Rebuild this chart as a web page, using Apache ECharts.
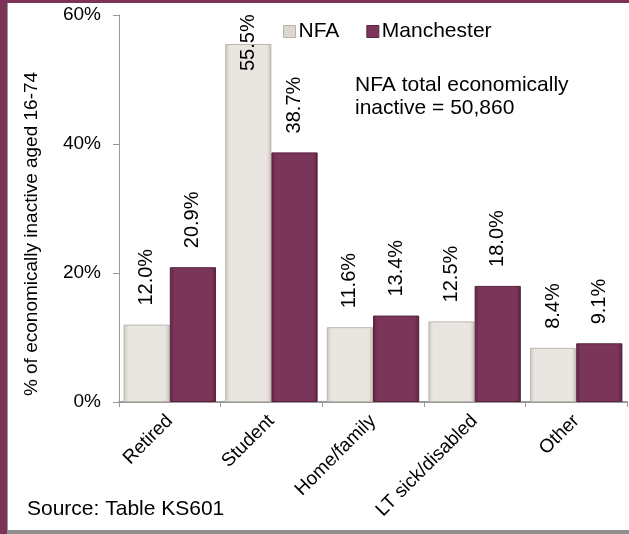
<!DOCTYPE html>
<html>
<head>
<meta charset="utf-8">
<script src="https://cdn.jsdelivr.net/npm/echarts@6/dist/echarts.min.js"></script>
<style>
html,body{margin:0;padding:0;background:#fff;}
#chart{width:629px;height:534px;}
</style>
</head>
<body>
<div id="chart"></div>
<script>
var categories = ['Retired', 'Student', 'Home/family', 'LT sick/disabled', 'Other'];
var nfaValues = [12.0, 55.5, 11.6, 12.5, 8.4];
var manchesterValues = [20.9, 38.7, 13.4, 18.0, 9.1];
var seriesNames = ['NFA', 'Manchester'];
var yTicks = [0, 20, 40, 60];
var yAxisTitle = '% of economically inactive aged 16-74';
var noteLines = ['NFA total economically', 'inactive = 50,860'];
var sourceText = 'Source: Table KS601';

var FONT = '"Liberation Sans", Arial, sans-serif';

var nfaFill = new echarts.graphic.LinearGradient(0, 0, 1, 0, [
  {offset: 0, color: '#cbc5be'}, {offset: 0.1, color: '#e9e5e0'},
  {offset: 0.9, color: '#e9e5e0'}, {offset: 1, color: '#c6c0b9'}
]);
var manFill = new echarts.graphic.LinearGradient(0, 0, 1, 0, [
  {offset: 0, color: '#5f2544'}, {offset: 0.1, color: '#7b3558'},
  {offset: 0.9, color: '#7b3558'}, {offset: 1, color: '#5a2240'}
]);

function labelCfg() {
  return {
    show: true, position: 'top', distance: 19, rotate: 90,
    align: 'left', verticalAlign: 'middle',
    fontFamily: FONT, fontSize: 20, color: '#000',
    formatter: function (p) { return p.value.toFixed(1) + '%'; }
  };
}

var nfaData = nfaValues.map(function (v) {
  if (v > 50) {
    return {value: v, label: {position: ['50%', 27], distance: 0}};
  }
  return v;
});

var chart = echarts.init(document.getElementById('chart'), null, {renderer: 'canvas'});
chart.setOption({
  animation: false,
  backgroundColor: '#ffffff',
  grid: {left: 119, right: 2, top: 15, bottom: 132, containLabel: false},
  legend: {
    data: [
      {name: seriesNames[0], itemStyle: {color: '#dcd7d1', borderColor: '#b9b3ac', borderWidth: 1}},
      {name: seriesNames[1], itemStyle: {color: '#7b3558', borderColor: '#5f2544', borderWidth: 1}}
    ],
    left: 283, top: 21, padding: 0, icon: 'rect', itemWidth: 12, itemHeight: 12, itemGap: 27,
    textStyle: {fontFamily: FONT, fontSize: 21, color: '#000', padding: [0, 0, 0, -2]}
  },
  xAxis: {
    type: 'category', data: categories,
    axisLine: {lineStyle: {color: '#999', width: 2}},
    axisTick: {show: true, length: 5, lineStyle: {color: '#999'}},
    axisLabel: {rotate: 45, margin: 16, fontFamily: FONT, fontSize: 19, color: '#000', interval: 0}
  },
  yAxis: {
    type: 'value', min: yTicks[0], max: yTicks[yTicks.length - 1], interval: 20,
    axisLine: {show: true, lineStyle: {color: '#999', width: 1}},
    axisTick: {show: true, length: 6, lineStyle: {color: '#999'}},
    splitLine: {show: false},
    axisLabel: {formatter: '{value}%', margin: 18, fontFamily: FONT, fontSize: 19, color: '#000'}
  },
  series: [
    {
      name: seriesNames[0], type: 'bar', data: nfaData,
      barGap: '0%', barCategoryGap: '9%',
      itemStyle: {color: nfaFill, borderColor: '#bdb7b0', borderWidth: 1},
      label: labelCfg()
    },
    {
      name: seriesNames[1], type: 'bar', data: manchesterValues,
      barGap: '0%', barCategoryGap: '9%',
      itemStyle: {color: manFill, borderColor: '#5a2240', borderWidth: 1},
      label: labelCfg()
    }
  ],
  graphic: [
    {type: 'rect', left: 0, top: 0, shape: {width: 7, height: 534}, style: {fill: '#7b3358'}, z: 100},
    {type: 'rect', left: 0, top: 0, shape: {width: 629, height: 3}, style: {fill: '#7b3358'}, z: 100},
    {type: 'rect', left: 7, top: 530, shape: {width: 622, height: 4}, style: {fill: '#8f8f8f'}, z: 100},
    {type: 'rect', left: 7, top: 3, shape: {width: 1, height: 527}, style: {fill: '#9a9a9a'}, z: 100},
    {
      type: 'text', x: 32, y: 234, rotation: Math.PI / 2,
      style: {text: yAxisTitle, fontFamily: FONT, fontSize: 19, fill: '#000', align: 'center', verticalAlign: 'middle'}
    },
    {
      type: 'text', x: 355, y: 85,
      style: {text: noteLines[0], fontFamily: FONT, fontSize: 21, fill: '#000', align: 'left', verticalAlign: 'middle'}
    },
    {
      type: 'text', x: 355, y: 108,
      style: {text: noteLines[1], fontFamily: FONT, fontSize: 21, fill: '#000', align: 'left', verticalAlign: 'middle'}
    },
    {
      type: 'text', x: 27, y: 509,
      style: {text: sourceText, fontFamily: FONT, fontSize: 21, fill: '#000', align: 'left', verticalAlign: 'middle'}
    }
  ]
});
</script>
</body>
</html>
